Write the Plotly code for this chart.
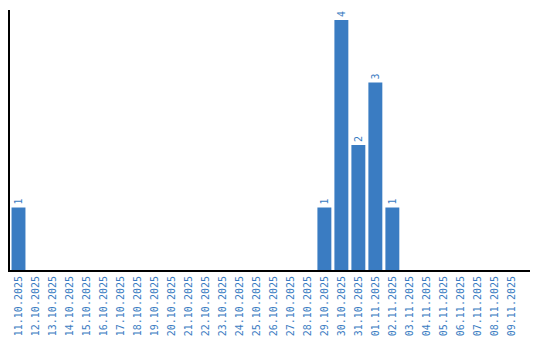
import plotly.graph_objects as go

dates = ["11.10.2025", "12.10.2025", "13.10.2025", "14.10.2025", "15.10.2025",
         "16.10.2025", "17.10.2025", "18.10.2025", "19.10.2025", "20.10.2025",
         "21.10.2025", "22.10.2025", "23.10.2025", "24.10.2025", "25.10.2025",
         "26.10.2025", "27.10.2025", "28.10.2025", "29.10.2025", "30.10.2025",
         "31.10.2025", "01.11.2025", "02.11.2025", "03.11.2025", "04.11.2025",
         "05.11.2025", "06.11.2025", "07.11.2025", "08.11.2025", "09.11.2025"]
counts = [1, 0, 0, 0, 0, 0, 0, 0, 0, 0,
          0, 0, 0, 0, 0, 0, 0, 0, 1, 4,
          2, 3, 1, 0, 0, 0, 0, 0, 0, 0]

blue = "#3a7cc2"
labels = [str(v) if v > 0 else "" for v in counts]

fig = go.Figure(go.Bar(
    x=dates, y=counts, text=labels, textposition="outside", textangle=-90,
    marker=dict(color=blue, line=dict(width=0)),
    textfont=dict(family="DejaVu Sans Mono", size=10, color=blue),
    cliponaxis=False, hoverinfo="skip",
))
fig.update_layout(
    width=540, height=340, margin=dict(l=10, r=10, t=10, b=70),
    paper_bgcolor="white", plot_bgcolor="white", bargap=0.18,
    showlegend=False,
    xaxis=dict(type="category", range=[-0.5, 30.1], tickangle=-90,
               tickfont=dict(family="DejaVu Sans Mono", size=10, color=blue),
               showline=True, linecolor="black", linewidth=2, showgrid=False,
               ticks="", ticklen=0, automargin=False),
    yaxis=dict(range=[0, 4.16], showticklabels=False, showgrid=False,
               zeroline=False, showline=True, linecolor="black", linewidth=2,
               ticks="", automargin=False),
)
fig.write_html("out.html")
